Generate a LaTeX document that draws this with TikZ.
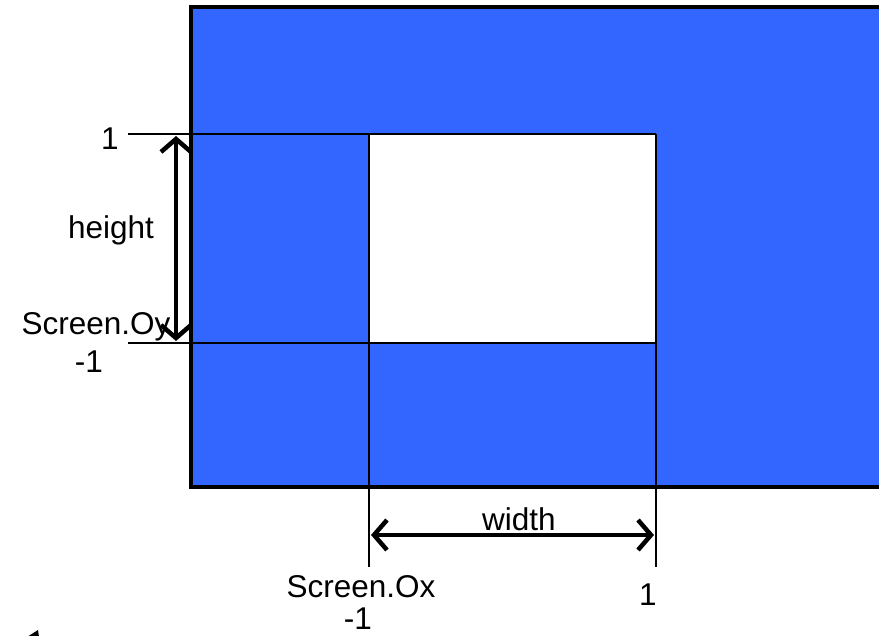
\documentclass[tikz,border=0pt]{standalone}
\usepackage{fontspec}
\setmainfont{Liberation Sans}
\usetikzlibrary{arrows.meta}
\definecolor{scrblue}{HTML}{3366FF}
\tikzset{
  lbl/.style={inner sep=0pt, font=\fontsize{31.5}{36}\selectfont},
  guide/.style={draw=black, line width=2.8pt},
  dim/.style={draw=black, line width=4.5pt, {Straight Barb[length=13pt,width=30pt,line width=4.5pt]}-{Straight Barb[length=13pt,width=30pt,line width=4.5pt]}},
}
\begin{document}
\begin{tikzpicture}[x=1pt,y=-1pt]
\useasboundingbox (0,0) rectangle (879,636);
\clip (0,0) rectangle (879,636);
% outer blue area
\fill[scrblue] (191,7) rectangle (900,487);
\draw[black, line width=3.2pt] (900,7) -- (191,7) -- (191,487) -- (900,487);
% white screen
\fill[white] (369,134) rectangle (656,343);
% guide coordinates
\coordinate (t0) at (128,134);
\coordinate (t1) at (656,134);
\coordinate (b0) at (128,343);
\coordinate (b1) at (656,343);
\coordinate (l0) at (369,343);
\coordinate (l1) at (369,567);
\coordinate (r1) at (656,567);
\draw[guide] (t0) -- (t1);
\draw[guide] (b0) -- (b1);
\draw[guide] (369,134) -- (l0);
\draw[guide] (l0) -- (l1);
\draw[guide] (t1) -- (r1);
% dimension arrows
\coordinate (ha) at (176,136);
\coordinate (hb) at (176,341);
\draw[dim] (ha) -- (hb);
\coordinate (wa) at (371,535);
\coordinate (wb) at (654,535);
\draw[dim] (wa) -- (wb);
% labels
\node[lbl] (one1) at (110,139) {1};
\node[lbl] (hgt) at (111,230) {height};
\node[lbl] (soy) at (96,327) {Screen.Oy};
\node[lbl] (m1y) at (89,362) {-1};
\node[lbl] (wid) at (519,519) {width};
\node[lbl] (sox) at (361,587) {Screen.Ox};
\node[lbl] (m1x) at (358,619) {-1};
\node[lbl] (one2) at (648,595) {1};
% small fragment bottom-left
\fill[black] (27,637) -- (38,630) -- (39,637) -- cycle;
\end{tikzpicture}
\end{document}
